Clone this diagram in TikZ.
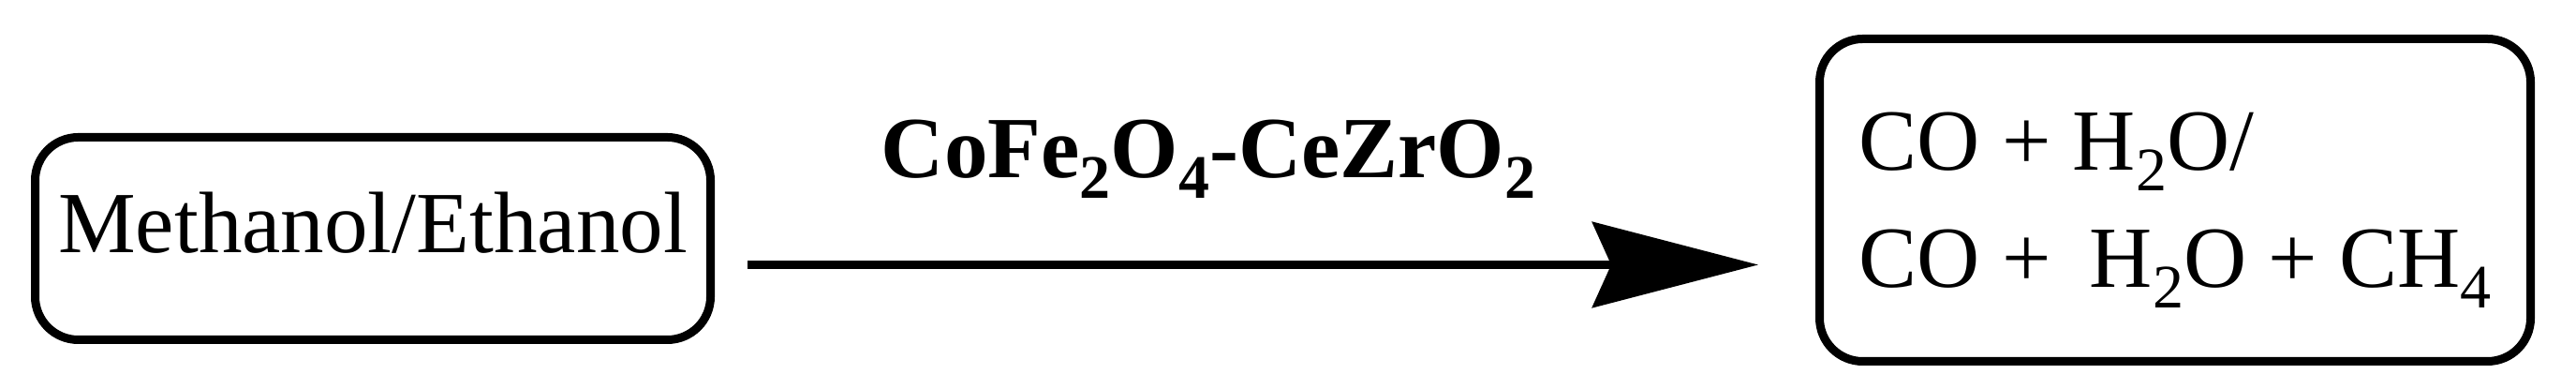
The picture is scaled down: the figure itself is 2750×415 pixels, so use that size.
\documentclass[tikz,border=0pt]{standalone}
\usepackage{fontspec}
\setmainfont{Liberation Serif}
\usetikzlibrary{arrows.meta, calc, positioning}
\newcommand{\chsub}[1]{\raisebox{-0.23em}{\fontsize{16.5}{16.5}\selectfont #1}}

\begin{document}
\begin{tikzpicture}[x=0.25pt, y=0.25pt, node distance=293.75pt,
		every node/.style={font=\fontsize{23.25}{31.25}\selectfont},
		species/.style={draw, line width=2.25pt, rounded corners=11.5pt, inner sep=0pt}]
  \useasboundingbox (0,0) rectangle (2750,415);
  \node[species, minimum width=180.25pt, minimum height=54pt,
        text height=16pt, text depth=8.25pt] (lb) at (398,160.5) {Methanol/Ethanol};
  \node[species, align=left, minimum width=189.75pt, minimum height=86pt]
        (rb) [right=of lb, yshift=10.25pt]
        {\rule{0pt}{20.85pt}CO + H\chsub{2}O/\\CO + \hspace{4.5pt}H\chsub{2}O + CH\chsub{4}};

  \draw[line width=2.25pt, -{Stealth[length=44.25pt, width=22.75pt, inset=5pt]}]
  	($(lb.east)+(35,-28)$) coordinate (a0) -- ($(a0 -| rb.west)+(-61,0)$)
  		node[pos=0.456, anchor=base, yshift=23.125pt, font=\fontsize{23.25}{31.25}\selectfont\bfseries]
  		{CoFe\chsub{2}O\chsub{4}-CeZrO\chsub{2}};
\end{tikzpicture}
\end{document}
